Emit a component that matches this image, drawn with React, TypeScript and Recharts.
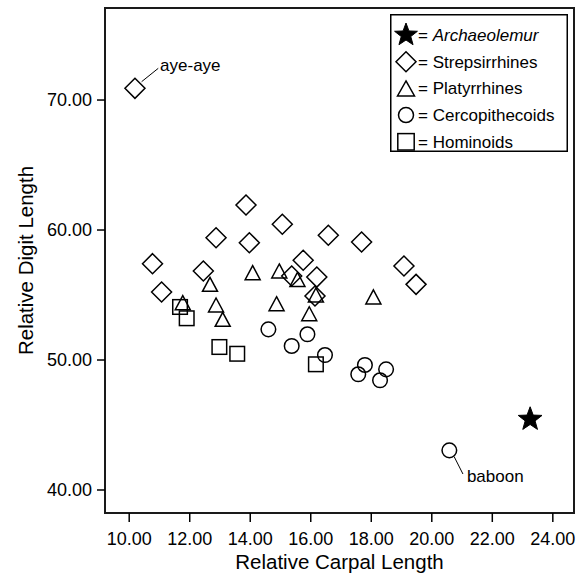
import React from "react";
import {
  ScatterChart,
  Scatter,
  XAxis,
  YAxis,
  ReferenceArea,
  ReferenceLine,
  ReferenceDot,
} from "recharts";

const FONT = "'Liberation Sans', Arial, sans-serif";

// Relative Carpal Length (x) / Relative Digit Length (y)
const strepX = [10.19, 13.86, 15.06, 12.87, 13.97, 16.58, 17.68, 10.77, 12.45, 15.75, 16.2, 15.37, 16.14, 11.07, 19.08, 19.48];
const strepY = [70.9, 61.92, 60.44, 59.41, 59.02, 59.6, 59.08, 57.41, 56.85, 57.67, 56.38, 56.46, 54.92, 55.23, 57.23, 55.82];

const platyX = [14.08, 14.96, 15.56, 12.67, 11.77, 12.87, 13.09, 14.87, 15.95, 16.17, 18.07];
const platyY = [56.72, 56.85, 56.2, 55.82, 54.41, 54.23, 53.13, 54.33, 53.56, 55.0, 54.85];

const cercoX = [14.6, 15.89, 15.37, 16.47, 17.79, 17.57, 18.49, 18.29, 20.58];
const cercoY = [52.36, 51.98, 51.08, 50.38, 49.62, 48.9, 49.28, 48.44, 43.05];

const homX = [11.68, 11.9, 12.98, 13.57, 16.17];
const homY = [54.08, 53.21, 51.0, 50.48, 49.67];

const archX = [23.25];
const archY = [45.44];

const xTicks = [10, 12, 14, 16, 18, 20, 22, 24];
const yTicks = [40, 50, 60, 70];
const xDomain = [9.2, 24.7];
const yDomain = [38.23, 77.08];

// annotations (data coords)
const ayeLine = [{ x: 10.41, y: 71.41 }, { x: 10.96, y: 72.44 }];
const ayeText = { x: 11.02, y: 72.69, label: "aye-aye" };
const babLine = [{ x: 20.74, y: 42.56 }, { x: 21.03, y: 41.23 }];
const babText = { x: 21.16, y: 41.05, label: "baboon" };

const zip = (xs: number[], ys: number[]) => xs.map((x, i) => ({ x, y: ys[i] }));
const strepData = zip(strepX, strepY);
const platyData = zip(platyX, platyY);
const cercoData = zip(cercoX, cercoY);
const homData = zip(homX, homY);
const archData = zip(archX, archY);

const SW = 1.5;

const starPoints = (cx: number, cy: number, ro: number, ri: number) => {
  const pts: string[] = [];
  for (let i = 0; i < 10; i++) {
    const r = i % 2 === 0 ? ro : ri;
    const a = -Math.PI / 2 + (i * Math.PI) / 5;
    pts.push(`${cx + r * Math.cos(a)},${cy + r * Math.sin(a)}`);
  }
  return pts.join(" ");
};

const Diamond = ({ cx, cy, s = 10 }: any) => (
  <polygon
    points={`${cx},${cy - s} ${cx + s},${cy} ${cx},${cy + s} ${cx - s},${cy}`}
    fill="none"
    stroke="#000"
    strokeWidth={SW}
  />
);
const Triangle = ({ cx, cy, w = 15, h = 14 }: any) => (
  <polygon
    points={`${cx},${cy - h / 2} ${cx + w / 2},${cy + h / 2} ${cx - w / 2},${cy + h / 2}`}
    fill="none"
    stroke="#000"
    strokeWidth={SW}
  />
);
const Circ = ({ cx, cy, r = 7.3 }: any) => (
  <circle cx={cx} cy={cy} r={r} fill="none" stroke="#000" strokeWidth={SW} />
);
const Sq = ({ cx, cy, s = 7.3 }: any) => (
  <rect x={cx - s} y={cy - s} width={2 * s} height={2 * s} fill="none" stroke="#000" strokeWidth={SW} />
);
const Star = ({ cx, cy, ro = 12.5, ri = 5.2 }: any) => (
  <polygon points={starPoints(cx, cy, ro, ri)} fill="#000" stroke="#000" strokeWidth={1} />
);

const legendRows = [
  { key: "arch", pre: "= ", name: "Archaeolemur", italic: true },
  { key: "strep", pre: "= ", name: "Strepsirrhines", italic: false },
  { key: "platy", pre: "= ", name: "Platyrrhines", italic: false },
  { key: "cerco", pre: "= ", name: "Cercopithecoids", italic: false },
  { key: "hom", pre: "= ", name: "Hominoids", italic: false },
];

const LegendIcon = ({ k, cx, cy }: any) => {
  if (k === "arch") return <Star cx={cx} cy={cy} ro={12} ri={5} />;
  if (k === "strep") return <Diamond cx={cx} cy={cy} s={10} />;
  if (k === "platy") return <Triangle cx={cx} cy={cy} w={17} h={15} />;
  if (k === "cerco") return <Circ cx={cx} cy={cy} r={7.5} />;
  return <Sq cx={cx} cy={cy} s={8.2} />;
};

const LegendBox = () => (
  <svg
    width={178}
    height={138}
    style={{ position: "absolute", left: 390, top: 14 }}
  >
    <rect x={0.75} y={0.75} width={176.5} height={136.5} fill="#fff" stroke="#000" strokeWidth={1.5} />
    {legendRows.map((r, i) => {
      const cy = 21 + i * 26.7;
      return (
        <g key={r.key}>
          <LegendIcon k={r.key} cx={16} cy={cy} />
          <text x={28} y={cy + 6} fontSize={17} fontFamily={FONT} fill="#000">
            {r.pre}
            <tspan fontStyle={r.italic ? "italic" : "normal"}>{r.name}</tspan>
          </text>
        </g>
      );
    })}
  </svg>
);

const annLabel = (text: string) => (props: any) => {
  const vb = props.viewBox || {};
  return (
    <text x={vb.x} y={vb.y} dy="0.355em" fontSize={17} fontFamily={FONT} fill="#000" textAnchor="start">
      {text}
    </text>
  );
};

const XTitle = (props: any) => {
  const vb = props.viewBox || {};
  return (
    <text x={vb.x + vb.width / 2} y={569} fontSize={20.5} fontFamily={FONT} fill="#000" textAnchor="middle">
      Relative Carpal Length
    </text>
  );
};
const YTitle = (props: any) => {
  const vb = props.viewBox || {};
  const cy = vb.y + vb.height / 2;
  return (
    <text
      x={25.5}
      y={cy}
      dy="0.355em"
      transform={`rotate(-90, 25.5, ${cy})`}
      fontSize={20.5}
      fontFamily={FONT}
      fill="#000"
      textAnchor="middle"
    >
      Relative Digit Length
    </text>
  );
};

export default function App() {
  return (
    <div style={{ position: "absolute", left: 0, top: 0, width: 577, height: 575, background: "#fff" }}>
      <ScatterChart width={577} height={575} margin={{ top: 8, right: 3, bottom: 0, left: 0 }}>
        <XAxis
          type="number"
          dataKey="x"
          domain={xDomain}
          ticks={xTicks}
          allowDataOverflow
          height={62}
          axisLine={false}
          tickLine={{ stroke: "#000", strokeWidth: 1.5 }}
          tickSize={9}
          tickMargin={10}
          tick={{ fill: "#000", fontSize: 18, fontFamily: FONT }}
          tickFormatter={(v: number) => v.toFixed(2)}
          interval={0}
          label={{ content: XTitle }}
        />
        <YAxis
          type="number"
          dataKey="y"
          domain={yDomain}
          ticks={yTicks}
          allowDataOverflow
          width={105}
          axisLine={false}
          tickLine={{ stroke: "#000", strokeWidth: 1.5 }}
          tickSize={8}
          tickMargin={5}
          tick={{ fill: "#000", fontSize: 18, fontFamily: FONT }}
          tickFormatter={(v: number) => v.toFixed(2)}
          interval={0}
          label={{ content: YTitle }}
        />
        <ReferenceArea
          x1={xDomain[0]}
          x2={xDomain[1]}
          y1={yDomain[0]}
          y2={yDomain[1]}
          fill="none"
          fillOpacity={0}
          stroke="#1a1a1a"
          strokeWidth={2}
          ifOverflow="visible"
        />
        <ReferenceLine segment={ayeLine} stroke="#000" strokeWidth={1} ifOverflow="visible" />
        <ReferenceLine segment={babLine} stroke="#000" strokeWidth={1} ifOverflow="visible" />
        <ReferenceDot x={ayeText.x} y={ayeText.y} r={0} fill="none" stroke="none" label={{ content: annLabel(ayeText.label) }} ifOverflow="visible" />
        <ReferenceDot x={babText.x} y={babText.y} r={0} fill="none" stroke="none" label={{ content: annLabel(babText.label) }} ifOverflow="visible" />
        <Scatter data={strepData} isAnimationActive={false} shape={(p: any) => <Diamond cx={p.cx} cy={p.cy} />} />
        <Scatter data={platyData} isAnimationActive={false} shape={(p: any) => <Triangle cx={p.cx} cy={p.cy} />} />
        <Scatter data={cercoData} isAnimationActive={false} shape={(p: any) => <Circ cx={p.cx} cy={p.cy} />} />
        <Scatter data={homData} isAnimationActive={false} shape={(p: any) => <Sq cx={p.cx} cy={p.cy} />} />
        <Scatter data={archData} isAnimationActive={false} shape={(p: any) => <Star cx={p.cx} cy={p.cy} />} />
      </ScatterChart>
      <LegendBox />
    </div>
  );
}
